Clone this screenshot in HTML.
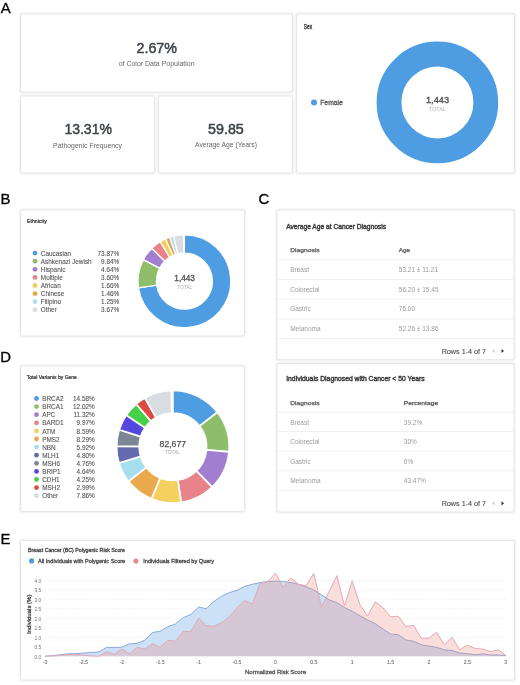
<!DOCTYPE html>
<html><head><meta charset="utf-8"><title>Figure</title>
<style>
html,body{margin:0;padding:0;background:#fff;width:520px;height:685px;overflow:hidden;}
svg{display:block;font-family:"Liberation Sans", sans-serif;filter:blur(0.35px);}
</style></head>
<body>
<svg width="520" height="685" viewBox="0 0 520 685">
<rect width="520" height="685" fill="#fff"/>
<text x="0.80" y="12.50" font-size="14.9" fill="#000" stroke="#000" stroke-width="0.3">A</text>
<text x="0.50" y="204.10" font-size="14.9" fill="#000" stroke="#000" stroke-width="0.3">B</text>
<text x="258.50" y="204.30" font-size="14.9" fill="#000" stroke="#000" stroke-width="0.3">C</text>
<text x="0.30" y="362.10" font-size="14.9" fill="#000" stroke="#000" stroke-width="0.3">D</text>
<text x="0.50" y="543.90" font-size="14.9" fill="#000" stroke="#000" stroke-width="0.3">E</text>
<rect x="19.50" y="13.00" width="274.00" height="80.00" rx="2.5" fill="none" stroke="#f4f4f4" stroke-width="1.5"/>
<rect x="20.50" y="14.00" width="272.00" height="78.00" rx="2" fill="#fff" stroke="#e6e6e6" stroke-width="1"/>
<rect x="19.50" y="95.00" width="136.00" height="79.00" rx="2.5" fill="none" stroke="#f4f4f4" stroke-width="1.5"/>
<rect x="20.50" y="96.00" width="134.00" height="77.00" rx="2" fill="#fff" stroke="#e6e6e6" stroke-width="1"/>
<rect x="157.50" y="95.00" width="136.00" height="79.00" rx="2.5" fill="none" stroke="#f4f4f4" stroke-width="1.5"/>
<rect x="158.50" y="96.00" width="134.00" height="77.00" rx="2" fill="#fff" stroke="#e6e6e6" stroke-width="1"/>
<rect x="295.50" y="13.00" width="220.00" height="161.00" rx="2.5" fill="none" stroke="#f4f4f4" stroke-width="1.5"/>
<rect x="296.50" y="14.00" width="218.00" height="159.00" rx="2" fill="#fff" stroke="#e6e6e6" stroke-width="1"/>
<text x="136.50" y="52.60" font-size="14.3" fill="#3f444a" stroke="#3f444a" stroke-width="0.5" textLength="40.50" lengthAdjust="spacingAndGlyphs">2.67%</text>
<text x="118.70" y="66.00" font-size="7.6" fill="#666" textLength="75.90" lengthAdjust="spacingAndGlyphs">of Color Data Population</text>
<text x="64.40" y="133.90" font-size="14.3" fill="#3f444a" stroke="#3f444a" stroke-width="0.5" textLength="47.50" lengthAdjust="spacingAndGlyphs">13.31%</text>
<text x="53.10" y="147.50" font-size="7.6" fill="#666" textLength="68.90" lengthAdjust="spacingAndGlyphs">Pathogenic Frequency</text>
<text x="208.10" y="133.80" font-size="14.3" fill="#3f444a" stroke="#3f444a" stroke-width="0.5" textLength="35.70" lengthAdjust="spacingAndGlyphs">59.85</text>
<text x="195.00" y="147.20" font-size="7.6" fill="#666" textLength="62.00" lengthAdjust="spacingAndGlyphs">Average Age (Years)</text>
<text x="303.80" y="28.70" font-size="6.3" fill="#333" stroke="#333" stroke-width="0.3" textLength="8.30" lengthAdjust="spacingAndGlyphs">Sex</text>
<circle cx="314" cy="102.5" r="3" fill="#4e9ce1"/>
<text x="320.20" y="105.20" font-size="7.3" fill="#555" stroke="#555" stroke-width="0.3" textLength="22.70" lengthAdjust="spacingAndGlyphs">Female</text>
<circle cx="437.4" cy="102.4" r="48.4" fill="none" stroke="#4e9ce1" stroke-width="24.8"/>
<text x="437.50" y="102.80" font-size="9.7" fill="#555" stroke="#555" stroke-width="0.4" text-anchor="middle" textLength="23.10" lengthAdjust="spacingAndGlyphs">1,443</text>
<text x="437.40" y="110.60" font-size="6.0" fill="#b0b0b0" text-anchor="middle" textLength="17.00" lengthAdjust="spacingAndGlyphs">TOTAL</text>
<rect x="19.50" y="209.00" width="226.00" height="128.00" rx="2.5" fill="none" stroke="#f4f4f4" stroke-width="1.5"/>
<rect x="20.50" y="210.00" width="224.00" height="126.00" rx="2" fill="#fff" stroke="#e6e6e6" stroke-width="1"/>
<text x="27.00" y="222.80" font-size="5.3" fill="#333" stroke="#333" stroke-width="0.22" textLength="19.80" lengthAdjust="spacingAndGlyphs">Ethnicity</text>
<circle cx="35" cy="253.10" r="2.4" fill="#4e9ce1"/>
<text x="40.80" y="255.70" font-size="6.9" fill="#555" stroke="#555" stroke-width="0.1" textLength="30.24" lengthAdjust="spacingAndGlyphs">Caucasian</text>
<text x="119.20" y="255.70" font-size="6.9" fill="#555" stroke="#555" stroke-width="0.1" text-anchor="end" textLength="21.71" lengthAdjust="spacingAndGlyphs">73.87%</text>
<circle cx="35" cy="261.20" r="2.4" fill="#8fbe6b"/>
<text x="40.80" y="263.80" font-size="6.9" fill="#555" stroke="#555" stroke-width="0.1" textLength="50.87" lengthAdjust="spacingAndGlyphs">Ashkenazi Jewish</text>
<text x="119.20" y="263.80" font-size="6.9" fill="#555" stroke="#555" stroke-width="0.1" text-anchor="end" textLength="18.15" lengthAdjust="spacingAndGlyphs">9.84%</text>
<circle cx="35" cy="269.30" r="2.4" fill="#a27ed0"/>
<text x="40.80" y="271.90" font-size="6.9" fill="#555" stroke="#555" stroke-width="0.1" textLength="24.54" lengthAdjust="spacingAndGlyphs">Hispanic</text>
<text x="119.20" y="271.90" font-size="6.9" fill="#555" stroke="#555" stroke-width="0.1" text-anchor="end" textLength="18.15" lengthAdjust="spacingAndGlyphs">4.64%</text>
<circle cx="35" cy="277.40" r="2.4" fill="#e8828b"/>
<text x="40.80" y="280.00" font-size="6.9" fill="#555" stroke="#555" stroke-width="0.1" textLength="22.05" lengthAdjust="spacingAndGlyphs">Multiple</text>
<text x="119.20" y="280.00" font-size="6.9" fill="#555" stroke="#555" stroke-width="0.1" text-anchor="end" textLength="18.15" lengthAdjust="spacingAndGlyphs">3.60%</text>
<circle cx="35" cy="285.50" r="2.4" fill="#f2cd5c"/>
<text x="40.80" y="288.10" font-size="6.9" fill="#555" stroke="#555" stroke-width="0.1" textLength="19.92" lengthAdjust="spacingAndGlyphs">African</text>
<text x="119.20" y="288.10" font-size="6.9" fill="#555" stroke="#555" stroke-width="0.1" text-anchor="end" textLength="18.15" lengthAdjust="spacingAndGlyphs">1.66%</text>
<circle cx="35" cy="293.60" r="2.4" fill="#e8a64c"/>
<text x="40.80" y="296.20" font-size="6.9" fill="#555" stroke="#555" stroke-width="0.1" textLength="23.48" lengthAdjust="spacingAndGlyphs">Chinese</text>
<text x="119.20" y="296.20" font-size="6.9" fill="#555" stroke="#555" stroke-width="0.1" text-anchor="end" textLength="18.15" lengthAdjust="spacingAndGlyphs">1.46%</text>
<circle cx="35" cy="301.70" r="2.4" fill="#aee0f0"/>
<text x="40.80" y="304.30" font-size="6.9" fill="#555" stroke="#555" stroke-width="0.1" textLength="20.27" lengthAdjust="spacingAndGlyphs">Filipino</text>
<text x="119.20" y="304.30" font-size="6.9" fill="#555" stroke="#555" stroke-width="0.1" text-anchor="end" textLength="18.15" lengthAdjust="spacingAndGlyphs">1.25%</text>
<circle cx="35" cy="309.80" r="2.4" fill="#d9dde1"/>
<text x="40.80" y="312.40" font-size="6.9" fill="#555" stroke="#555" stroke-width="0.1" textLength="16.01" lengthAdjust="spacingAndGlyphs">Other</text>
<text x="119.20" y="312.40" font-size="6.9" fill="#555" stroke="#555" stroke-width="0.1" text-anchor="end" textLength="18.15" lengthAdjust="spacingAndGlyphs">3.67%</text>
<path d="M184.40,234.80 A46.4,46.4 0 1 1 138.48,287.88 L156.69,285.23 A28.0,28.0 0 1 0 184.40,253.20 Z" fill="#4e9ce1" stroke="#fff" stroke-width="1.3" stroke-linejoin="miter"/>
<path d="M138.48,287.88 A46.4,46.4 0 0 1 143.33,259.62 L159.61,268.18 A28.0,28.0 0 0 0 156.69,285.23 Z" fill="#8fbe6b" stroke="#fff" stroke-width="1.3" stroke-linejoin="miter"/>
<path d="M143.33,259.62 A46.4,46.4 0 0 1 151.80,248.18 L164.73,261.28 A28.0,28.0 0 0 0 159.61,268.18 Z" fill="#a27ed0" stroke="#fff" stroke-width="1.3" stroke-linejoin="miter"/>
<path d="M151.80,248.18 A46.4,46.4 0 0 1 160.16,241.64 L169.77,257.33 A28.0,28.0 0 0 0 164.73,261.28 Z" fill="#e8828b" stroke="#fff" stroke-width="1.3" stroke-linejoin="miter"/>
<path d="M160.16,241.64 A46.4,46.4 0 0 1 165.44,238.85 L172.96,255.64 A28.0,28.0 0 0 0 169.77,257.33 Z" fill="#f2cd5c" stroke="#fff" stroke-width="1.3" stroke-linejoin="miter"/>
<path d="M165.44,238.85 A46.4,46.4 0 0 1 169.78,237.16 L175.58,254.63 A28.0,28.0 0 0 0 172.96,255.64 Z" fill="#e8a64c" stroke="#fff" stroke-width="1.3" stroke-linejoin="miter"/>
<path d="M169.78,237.16 A46.4,46.4 0 0 1 173.57,236.08 L177.86,253.97 A28.0,28.0 0 0 0 175.58,254.63 Z" fill="#aee0f0" stroke="#fff" stroke-width="1.3" stroke-linejoin="miter"/>
<path d="M173.57,236.08 A46.4,46.4 0 0 1 183.53,234.81 L183.87,253.20 A28.0,28.0 0 0 0 177.86,253.97 Z" fill="#d9dde1" stroke="#fff" stroke-width="1.3" stroke-linejoin="miter"/>
<text x="184.60" y="281.10" font-size="8.7" fill="#555" stroke="#555" stroke-width="0.35" text-anchor="middle" textLength="20.50" lengthAdjust="spacingAndGlyphs">1,443</text>
<text x="184.60" y="288.60" font-size="5.2" fill="#b0b0b0" text-anchor="middle" textLength="15.00" lengthAdjust="spacingAndGlyphs">TOTAL</text>
<rect x="19.50" y="365.00" width="226.00" height="147.50" rx="2.5" fill="none" stroke="#f4f4f4" stroke-width="1.5"/>
<rect x="20.50" y="366.00" width="224.00" height="145.50" rx="2" fill="#fff" stroke="#e6e6e6" stroke-width="1"/>
<text x="26.70" y="379.20" font-size="5.2" fill="#333" stroke="#333" stroke-width="0.22" textLength="50.20" lengthAdjust="spacingAndGlyphs">Total Variants by Gene</text>
<circle cx="36.5" cy="398.50" r="2.4" fill="#4e9ce1"/>
<text x="42.20" y="401.10" font-size="6.9" fill="#555" stroke="#555" stroke-width="0.1" textLength="21.34" lengthAdjust="spacingAndGlyphs">BRCA2</text>
<text x="94.70" y="401.10" font-size="6.9" fill="#555" stroke="#555" stroke-width="0.1" text-anchor="end" textLength="21.71" lengthAdjust="spacingAndGlyphs">14.58%</text>
<circle cx="36.5" cy="406.60" r="2.4" fill="#8fbe6b"/>
<text x="42.20" y="409.20" font-size="6.9" fill="#555" stroke="#555" stroke-width="0.1" textLength="21.34" lengthAdjust="spacingAndGlyphs">BRCA1</text>
<text x="94.70" y="409.20" font-size="6.9" fill="#555" stroke="#555" stroke-width="0.1" text-anchor="end" textLength="21.71" lengthAdjust="spacingAndGlyphs">12.02%</text>
<circle cx="36.5" cy="414.70" r="2.4" fill="#a27ed0"/>
<text x="42.20" y="417.30" font-size="6.9" fill="#555" stroke="#555" stroke-width="0.1" textLength="13.16" lengthAdjust="spacingAndGlyphs">APC</text>
<text x="94.70" y="417.30" font-size="6.9" fill="#555" stroke="#555" stroke-width="0.1" text-anchor="end" textLength="21.23" lengthAdjust="spacingAndGlyphs">11.32%</text>
<circle cx="36.5" cy="422.80" r="2.4" fill="#e8828b"/>
<text x="42.20" y="425.40" font-size="6.9" fill="#555" stroke="#555" stroke-width="0.1" textLength="21.34" lengthAdjust="spacingAndGlyphs">BARD1</text>
<text x="94.70" y="425.40" font-size="6.9" fill="#555" stroke="#555" stroke-width="0.1" text-anchor="end" textLength="18.15" lengthAdjust="spacingAndGlyphs">9.97%</text>
<circle cx="36.5" cy="430.90" r="2.4" fill="#f4d05e"/>
<text x="42.20" y="433.50" font-size="6.9" fill="#555" stroke="#555" stroke-width="0.1" textLength="13.03" lengthAdjust="spacingAndGlyphs">ATM</text>
<text x="94.70" y="433.50" font-size="6.9" fill="#555" stroke="#555" stroke-width="0.1" text-anchor="end" textLength="18.15" lengthAdjust="spacingAndGlyphs">8.59%</text>
<circle cx="36.5" cy="439.00" r="2.4" fill="#eaa94c"/>
<text x="42.20" y="441.60" font-size="6.9" fill="#555" stroke="#555" stroke-width="0.1" textLength="17.43" lengthAdjust="spacingAndGlyphs">PMS2</text>
<text x="94.70" y="441.60" font-size="6.9" fill="#555" stroke="#555" stroke-width="0.1" text-anchor="end" textLength="18.15" lengthAdjust="spacingAndGlyphs">8.29%</text>
<circle cx="36.5" cy="447.10" r="2.4" fill="#a6def0"/>
<text x="42.20" y="449.70" font-size="6.9" fill="#555" stroke="#555" stroke-width="0.1" textLength="13.51" lengthAdjust="spacingAndGlyphs">NBN</text>
<text x="94.70" y="449.70" font-size="6.9" fill="#555" stroke="#555" stroke-width="0.1" text-anchor="end" textLength="18.15" lengthAdjust="spacingAndGlyphs">5.92%</text>
<circle cx="36.5" cy="455.20" r="2.4" fill="#6569ae"/>
<text x="42.20" y="457.80" font-size="6.9" fill="#555" stroke="#555" stroke-width="0.1" textLength="17.07" lengthAdjust="spacingAndGlyphs">MLH1</text>
<text x="94.70" y="457.80" font-size="6.9" fill="#555" stroke="#555" stroke-width="0.1" text-anchor="end" textLength="18.15" lengthAdjust="spacingAndGlyphs">4.80%</text>
<circle cx="36.5" cy="463.30" r="2.4" fill="#7d8696"/>
<text x="42.20" y="465.90" font-size="6.9" fill="#555" stroke="#555" stroke-width="0.1" textLength="17.78" lengthAdjust="spacingAndGlyphs">MSH6</text>
<text x="94.70" y="465.90" font-size="6.9" fill="#555" stroke="#555" stroke-width="0.1" text-anchor="end" textLength="18.15" lengthAdjust="spacingAndGlyphs">4.76%</text>
<circle cx="36.5" cy="471.40" r="2.4" fill="#5449dc"/>
<text x="42.20" y="474.00" font-size="6.9" fill="#555" stroke="#555" stroke-width="0.1" textLength="18.50" lengthAdjust="spacingAndGlyphs">BRIP1</text>
<text x="94.70" y="474.00" font-size="6.9" fill="#555" stroke="#555" stroke-width="0.1" text-anchor="end" textLength="18.15" lengthAdjust="spacingAndGlyphs">4.64%</text>
<circle cx="36.5" cy="479.50" r="2.4" fill="#47d14a"/>
<text x="42.20" y="482.10" font-size="6.9" fill="#555" stroke="#555" stroke-width="0.1" textLength="17.43" lengthAdjust="spacingAndGlyphs">CDH1</text>
<text x="94.70" y="482.10" font-size="6.9" fill="#555" stroke="#555" stroke-width="0.1" text-anchor="end" textLength="18.15" lengthAdjust="spacingAndGlyphs">4.25%</text>
<circle cx="36.5" cy="487.60" r="2.4" fill="#dd4a42"/>
<text x="42.20" y="490.20" font-size="6.9" fill="#555" stroke="#555" stroke-width="0.1" textLength="17.78" lengthAdjust="spacingAndGlyphs">MSH2</text>
<text x="94.70" y="490.20" font-size="6.9" fill="#555" stroke="#555" stroke-width="0.1" text-anchor="end" textLength="18.15" lengthAdjust="spacingAndGlyphs">2.99%</text>
<circle cx="36.5" cy="495.70" r="2.4" fill="#d8dde1"/>
<text x="42.20" y="498.30" font-size="6.9" fill="#555" stroke="#555" stroke-width="0.1" textLength="16.01" lengthAdjust="spacingAndGlyphs">Other</text>
<text x="94.70" y="498.30" font-size="6.9" fill="#555" stroke="#555" stroke-width="0.1" text-anchor="end" textLength="18.15" lengthAdjust="spacingAndGlyphs">7.86%</text>
<path d="M172.90,390.40 A56.3,56.3 0 0 1 217.40,412.22 L199.54,426.06 A33.7,33.7 0 0 0 172.90,413.00 Z" fill="#4e9ce1" stroke="#fff" stroke-width="1.7" stroke-linejoin="miter"/>
<path d="M217.40,412.22 A56.3,56.3 0 0 1 228.96,451.89 L206.46,449.81 A33.7,33.7 0 0 0 199.54,426.06 Z" fill="#8fbe6b" stroke="#fff" stroke-width="1.7" stroke-linejoin="miter"/>
<path d="M228.96,451.89 A56.3,56.3 0 0 1 212.12,487.09 L196.38,470.88 A33.7,33.7 0 0 0 206.46,449.81 Z" fill="#a27ed0" stroke="#fff" stroke-width="1.7" stroke-linejoin="miter"/>
<path d="M212.12,487.09 A56.3,56.3 0 0 1 181.16,502.39 L177.85,480.03 A33.7,33.7 0 0 0 196.38,470.88 Z" fill="#e8828b" stroke="#fff" stroke-width="1.7" stroke-linejoin="miter"/>
<path d="M181.16,502.39 A56.3,56.3 0 0 1 151.51,498.78 L160.10,477.87 A33.7,33.7 0 0 0 177.85,480.03 Z" fill="#f4d05e" stroke="#fff" stroke-width="1.7" stroke-linejoin="miter"/>
<path d="M151.51,498.78 A56.3,56.3 0 0 1 128.52,481.34 L146.33,467.43 A33.7,33.7 0 0 0 160.10,477.87 Z" fill="#eaa94c" stroke="#fff" stroke-width="1.7" stroke-linejoin="miter"/>
<path d="M128.52,481.34 A56.3,56.3 0 0 1 118.99,462.94 L140.63,456.42 A33.7,33.7 0 0 0 146.33,467.43 Z" fill="#a6def0" stroke="#fff" stroke-width="1.7" stroke-linejoin="miter"/>
<path d="M118.99,462.94 A56.3,56.3 0 0 1 116.60,446.28 L139.20,446.45 A33.7,33.7 0 0 0 140.63,456.42 Z" fill="#6569ae" stroke="#fff" stroke-width="1.7" stroke-linejoin="miter"/>
<path d="M116.60,446.28 A56.3,56.3 0 0 1 119.20,429.79 L140.76,436.58 A33.7,33.7 0 0 0 139.20,446.45 Z" fill="#7d8696" stroke="#fff" stroke-width="1.7" stroke-linejoin="miter"/>
<path d="M119.20,429.79 A56.3,56.3 0 0 1 126.28,415.13 L145.00,427.80 A33.7,33.7 0 0 0 140.76,436.58 Z" fill="#5449dc" stroke="#fff" stroke-width="1.7" stroke-linejoin="miter"/>
<path d="M126.28,415.13 A56.3,56.3 0 0 1 136.21,404.00 L150.94,421.14 A33.7,33.7 0 0 0 145.00,427.80 Z" fill="#47d14a" stroke="#fff" stroke-width="1.7" stroke-linejoin="miter"/>
<path d="M136.21,404.00 A56.3,56.3 0 0 1 144.79,397.92 L156.07,417.50 A33.7,33.7 0 0 0 150.94,421.14 Z" fill="#dd4a42" stroke="#fff" stroke-width="1.7" stroke-linejoin="miter"/>
<path d="M144.79,397.92 A56.3,56.3 0 0 1 171.13,390.43 L171.84,413.02 A33.7,33.7 0 0 0 156.07,417.50 Z" fill="#d8dde1" stroke="#fff" stroke-width="1.7" stroke-linejoin="miter"/>
<text x="172.80" y="446.80" font-size="8.7" fill="#555" stroke="#555" stroke-width="0.25" text-anchor="middle" textLength="26.40" lengthAdjust="spacingAndGlyphs">82,677</text>
<text x="172.50" y="454.00" font-size="5.0" fill="#aaa" text-anchor="middle" textLength="15.10" lengthAdjust="spacingAndGlyphs">TOTAL</text>
<rect x="276.00" y="209.00" width="239.00" height="151.70" rx="2.5" fill="none" stroke="#f4f4f4" stroke-width="1.5"/>
<rect x="277.00" y="210.00" width="237.00" height="149.70" rx="2" fill="#fff" stroke="#e6e6e6" stroke-width="1"/>
<text x="286.20" y="228.60" font-size="6.9" fill="#333" stroke="#333" stroke-width="0.38" textLength="99.80" lengthAdjust="spacingAndGlyphs">Average Age at Cancer Diagnosis</text>
<text x="290.30" y="252.30" font-size="6.2" fill="#555" stroke="#555" stroke-width="0.25" textLength="29.30" lengthAdjust="spacingAndGlyphs">Diagnosis</text>
<text x="398.80" y="252.30" font-size="6.2" fill="#555" stroke="#555" stroke-width="0.25" textLength="11.20" lengthAdjust="spacingAndGlyphs">Age</text>
<line x1="277" x2="514" y1="259.70" y2="259.70" stroke="#ececec" stroke-width="0.8"/>
<line x1="277" x2="514" y1="279.50" y2="279.50" stroke="#ececec" stroke-width="0.8"/>
<line x1="277" x2="514" y1="299.10" y2="299.10" stroke="#ececec" stroke-width="0.8"/>
<line x1="277" x2="514" y1="318.90" y2="318.90" stroke="#ececec" stroke-width="0.8"/>
<line x1="277" x2="514" y1="338.50" y2="338.50" stroke="#ececec" stroke-width="0.8"/>
<text x="290.20" y="271.90" font-size="6.9" fill="#9a9a9a" textLength="18.79" lengthAdjust="spacingAndGlyphs">Breast</text>
<text x="398.80" y="271.90" font-size="6.9" fill="#9a9a9a" textLength="39.23" lengthAdjust="spacingAndGlyphs">53.21 ± 11.21</text>
<text x="290.20" y="291.70" font-size="6.9" fill="#9a9a9a" textLength="29.26" lengthAdjust="spacingAndGlyphs">Colorectal</text>
<text x="398.80" y="291.70" font-size="6.9" fill="#9a9a9a" textLength="39.71" lengthAdjust="spacingAndGlyphs">56.20 ± 15.45</text>
<text x="290.20" y="311.20" font-size="6.9" fill="#9a9a9a" textLength="20.58" lengthAdjust="spacingAndGlyphs">Gastric</text>
<text x="398.80" y="311.20" font-size="6.9" fill="#9a9a9a" textLength="16.26" lengthAdjust="spacingAndGlyphs">76.00</text>
<text x="290.20" y="330.70" font-size="6.9" fill="#9a9a9a" textLength="30.35" lengthAdjust="spacingAndGlyphs">Melanoma</text>
<text x="398.80" y="330.70" font-size="6.9" fill="#9a9a9a" textLength="39.71" lengthAdjust="spacingAndGlyphs">52.26 ± 13.86</text>
<text x="486.00" y="353.50" font-size="7.2" fill="#555" stroke="#555" stroke-width="0.15" text-anchor="end" textLength="44.30" lengthAdjust="spacingAndGlyphs">Rows 1-4 of 7</text>
<path d="M494.6,348.90 L492.2,351.00 L494.6,353.10 Z" fill="#cfcfcf"/>
<path d="M501.5,348.90 L504.0,351.00 L501.5,353.10 Z" fill="#333"/>
<rect x="276.00" y="362.50" width="239.00" height="150.50" rx="2.5" fill="none" stroke="#f4f4f4" stroke-width="1.5"/>
<rect x="277.00" y="363.50" width="237.00" height="148.50" rx="2" fill="#fff" stroke="#e6e6e6" stroke-width="1"/>
<text x="286.20" y="380.70" font-size="6.9" fill="#333" stroke="#333" stroke-width="0.38" textLength="138.50" lengthAdjust="spacingAndGlyphs">Individuals Diagnosed with Cancer &lt; 50 Years</text>
<text x="290.30" y="405.00" font-size="6.2" fill="#555" stroke="#555" stroke-width="0.25" textLength="29.30" lengthAdjust="spacingAndGlyphs">Diagnosis</text>
<text x="403.80" y="405.00" font-size="6.2" fill="#555" stroke="#555" stroke-width="0.25" textLength="34.40" lengthAdjust="spacingAndGlyphs">Percentage</text>
<line x1="277" x2="514" y1="412.20" y2="412.20" stroke="#ececec" stroke-width="0.8"/>
<line x1="277" x2="514" y1="431.50" y2="431.50" stroke="#ececec" stroke-width="0.8"/>
<line x1="277" x2="514" y1="451.00" y2="451.00" stroke="#ececec" stroke-width="0.8"/>
<line x1="277" x2="514" y1="470.80" y2="470.80" stroke="#ececec" stroke-width="0.8"/>
<line x1="277" x2="514" y1="490.60" y2="490.60" stroke="#ececec" stroke-width="0.8"/>
<text x="290.20" y="424.70" font-size="6.9" fill="#9a9a9a" textLength="18.79" lengthAdjust="spacingAndGlyphs">Breast</text>
<text x="403.80" y="424.70" font-size="6.9" fill="#9a9a9a" textLength="18.43" lengthAdjust="spacingAndGlyphs">39.2%</text>
<text x="290.20" y="444.20" font-size="6.9" fill="#9a9a9a" textLength="29.26" lengthAdjust="spacingAndGlyphs">Colorectal</text>
<text x="403.80" y="444.20" font-size="6.9" fill="#9a9a9a" textLength="13.01" lengthAdjust="spacingAndGlyphs">30%</text>
<text x="290.20" y="463.70" font-size="6.9" fill="#9a9a9a" textLength="20.58" lengthAdjust="spacingAndGlyphs">Gastric</text>
<text x="403.80" y="463.70" font-size="6.9" fill="#9a9a9a" textLength="9.39" lengthAdjust="spacingAndGlyphs">0%</text>
<text x="290.20" y="483.20" font-size="6.9" fill="#9a9a9a" textLength="30.35" lengthAdjust="spacingAndGlyphs">Melanoma</text>
<text x="403.80" y="483.20" font-size="6.9" fill="#9a9a9a" textLength="22.04" lengthAdjust="spacingAndGlyphs">43.47%</text>
<text x="486.00" y="505.80" font-size="7.2" fill="#555" stroke="#555" stroke-width="0.15" text-anchor="end" textLength="44.30" lengthAdjust="spacingAndGlyphs">Rows 1-4 of 7</text>
<path d="M494.6,501.20 L492.2,503.30 L494.6,505.40 Z" fill="#cfcfcf"/>
<path d="M501.5,501.20 L504.0,503.30 L501.5,505.40 Z" fill="#333"/>
<rect x="19.50" y="539.50" width="496.00" height="141.50" rx="2.5" fill="none" stroke="#f4f4f4" stroke-width="1.5"/>
<rect x="20.50" y="540.50" width="494.00" height="139.50" rx="2" fill="#fff" stroke="#e6e6e6" stroke-width="1"/>
<text x="28.00" y="552.00" font-size="5.5" fill="#444" stroke="#444" stroke-width="0.3" textLength="97.00" lengthAdjust="spacingAndGlyphs">Breast Cancer (BC) Polygenic Risk Score</text>
<circle cx="31.6" cy="560.9" r="2.55" fill="#4e9ce1"/>
<text x="38.00" y="562.60" font-size="5.8" fill="#444" stroke="#444" stroke-width="0.3" textLength="87.20" lengthAdjust="spacingAndGlyphs">All Individuals with Polygenic Score</text>
<circle cx="135.9" cy="561.0" r="2.55" fill="#e8898e"/>
<text x="143.30" y="562.60" font-size="5.8" fill="#444" stroke="#444" stroke-width="0.3" textLength="70.70" lengthAdjust="spacingAndGlyphs">Individuals Filtered by Query</text>
<text x="41.30" y="658.50" font-size="5.8" fill="#777" text-anchor="end" textLength="6.90" lengthAdjust="spacingAndGlyphs">0.0</text>
<line x1="45" x2="506" y1="646.82" y2="646.82" stroke="#e9e9e9" stroke-width="0.7" stroke-dasharray="1.2,1.6"/>
<text x="41.30" y="649.02" font-size="5.8" fill="#777" text-anchor="end" textLength="6.90" lengthAdjust="spacingAndGlyphs">0.5</text>
<line x1="45" x2="506" y1="637.35" y2="637.35" stroke="#e9e9e9" stroke-width="0.7" stroke-dasharray="1.2,1.6"/>
<text x="41.30" y="639.55" font-size="5.8" fill="#777" text-anchor="end" textLength="6.90" lengthAdjust="spacingAndGlyphs">1.0</text>
<line x1="45" x2="506" y1="627.88" y2="627.88" stroke="#e9e9e9" stroke-width="0.7" stroke-dasharray="1.2,1.6"/>
<text x="41.30" y="630.08" font-size="5.8" fill="#777" text-anchor="end" textLength="6.90" lengthAdjust="spacingAndGlyphs">1.5</text>
<line x1="45" x2="506" y1="618.40" y2="618.40" stroke="#e9e9e9" stroke-width="0.7" stroke-dasharray="1.2,1.6"/>
<text x="41.30" y="620.60" font-size="5.8" fill="#777" text-anchor="end" textLength="6.90" lengthAdjust="spacingAndGlyphs">2.0</text>
<line x1="45" x2="506" y1="608.92" y2="608.92" stroke="#e9e9e9" stroke-width="0.7" stroke-dasharray="1.2,1.6"/>
<text x="41.30" y="611.12" font-size="5.8" fill="#777" text-anchor="end" textLength="6.90" lengthAdjust="spacingAndGlyphs">2.5</text>
<line x1="45" x2="506" y1="599.45" y2="599.45" stroke="#e9e9e9" stroke-width="0.7" stroke-dasharray="1.2,1.6"/>
<text x="41.30" y="601.65" font-size="5.8" fill="#777" text-anchor="end" textLength="6.90" lengthAdjust="spacingAndGlyphs">3.0</text>
<line x1="45" x2="506" y1="589.97" y2="589.97" stroke="#e9e9e9" stroke-width="0.7" stroke-dasharray="1.2,1.6"/>
<text x="41.30" y="592.17" font-size="5.8" fill="#777" text-anchor="end" textLength="6.90" lengthAdjust="spacingAndGlyphs">3.5</text>
<line x1="45" x2="506" y1="580.50" y2="580.50" stroke="#e9e9e9" stroke-width="0.7" stroke-dasharray="1.2,1.6"/>
<text x="41.30" y="582.70" font-size="5.8" fill="#777" text-anchor="end" textLength="6.90" lengthAdjust="spacingAndGlyphs">4.0</text>
<text x="45.00" y="664.00" font-size="5.2" fill="#777" stroke="#777" stroke-width="0.12" text-anchor="middle">-3</text>
<text x="83.40" y="664.00" font-size="5.2" fill="#777" stroke="#777" stroke-width="0.12" text-anchor="middle">-2.5</text>
<text x="121.80" y="664.00" font-size="5.2" fill="#777" stroke="#777" stroke-width="0.12" text-anchor="middle">-2</text>
<text x="160.20" y="664.00" font-size="5.2" fill="#777" stroke="#777" stroke-width="0.12" text-anchor="middle">-1.5</text>
<text x="198.60" y="664.00" font-size="5.2" fill="#777" stroke="#777" stroke-width="0.12" text-anchor="middle">-1</text>
<text x="237.00" y="664.00" font-size="5.2" fill="#777" stroke="#777" stroke-width="0.12" text-anchor="middle">-0.5</text>
<text x="275.40" y="664.00" font-size="5.2" fill="#777" stroke="#777" stroke-width="0.12" text-anchor="middle">0</text>
<text x="313.80" y="664.00" font-size="5.2" fill="#777" stroke="#777" stroke-width="0.12" text-anchor="middle">0.5</text>
<text x="352.20" y="664.00" font-size="5.2" fill="#777" stroke="#777" stroke-width="0.12" text-anchor="middle">1</text>
<text x="390.60" y="664.00" font-size="5.2" fill="#777" stroke="#777" stroke-width="0.12" text-anchor="middle">1.5</text>
<text x="429.00" y="664.00" font-size="5.2" fill="#777" stroke="#777" stroke-width="0.12" text-anchor="middle">2</text>
<text x="467.40" y="664.00" font-size="5.2" fill="#777" stroke="#777" stroke-width="0.12" text-anchor="middle">2.5</text>
<text x="505.80" y="664.00" font-size="5.2" fill="#777" stroke="#777" stroke-width="0.12" text-anchor="middle">3</text>
<text x="275.50" y="674.20" font-size="6.0" fill="#555" stroke="#555" stroke-width="0.3" text-anchor="middle" textLength="61.00" lengthAdjust="spacingAndGlyphs">Normalized Risk Score</text>
<text x="0.00" y="0.00" font-size="6.0" fill="#444" stroke="#444" stroke-width="0.3" text-anchor="middle" textLength="39.50" lengthAdjust="spacingAndGlyphs" transform="translate(31,614.3) rotate(-90)">Individuals (%)</text>
<path d="M45.00,656.30 L45.00,656.30 52.68,655.92 60.36,655.54 68.04,654.40 75.72,654.40 83.40,655.16 91.08,655.92 98.76,656.30 106.44,651.56 114.12,654.40 121.80,649.10 129.48,653.65 137.16,647.39 144.84,649.10 152.52,643.60 160.20,647.20 167.88,640.38 175.56,641.14 183.24,631.29 190.92,631.66 198.60,618.21 206.28,625.60 213.96,626.36 221.64,622.76 229.32,616.69 237.00,607.98 244.68,600.40 252.36,604.00 260.04,583.34 267.72,581.83 275.40,573.11 283.08,587.32 290.76,578.04 298.44,584.29 306.12,585.62 313.80,573.30 321.48,607.22 329.16,591.49 336.84,575.76 344.52,605.89 352.20,580.88 359.88,604.76 367.56,615.94 375.24,601.72 382.92,607.79 390.60,616.88 398.28,616.13 405.96,626.55 413.64,625.41 421.32,638.30 429.00,638.11 436.68,632.23 444.36,644.74 452.04,637.35 459.72,649.86 467.40,645.12 475.08,648.53 482.76,649.10 490.44,651.56 498.12,649.86 505.80,655.16 L505.80,656.30 Z" fill="#fff"/>
<path d="M45.00,656.30 L45.00,656.30 52.68,655.54 60.36,654.78 68.04,653.84 75.72,653.65 83.40,653.08 91.08,652.51 98.76,651.94 106.44,647.58 114.12,647.58 121.80,647.20 129.48,643.79 137.16,643.41 144.84,640.19 152.52,632.61 160.20,631.10 167.88,626.74 175.56,623.90 183.24,617.64 190.92,614.42 198.60,607.03 206.28,608.74 213.96,601.34 221.64,596.23 229.32,592.63 237.00,590.35 244.68,586.37 252.36,584.29 260.04,582.58 267.72,581.64 275.40,581.26 283.08,581.45 290.76,582.58 298.44,584.29 306.12,586.94 313.80,589.97 321.48,594.71 329.16,599.83 336.84,602.67 344.52,607.60 352.20,611.20 359.88,615.75 367.56,619.92 375.24,623.71 382.92,629.01 390.60,634.13 398.28,634.70 405.96,640.00 413.64,641.33 421.32,644.74 429.00,646.07 436.68,647.39 444.36,649.86 452.04,650.62 459.72,652.89 467.40,653.65 475.08,654.78 482.76,653.84 490.44,654.97 498.12,654.97 505.80,655.54 L505.80,656.30 Z" fill="#cce0f6"/>
<polyline points="45.00,656.30 52.68,655.54 60.36,654.78 68.04,653.84 75.72,653.65 83.40,653.08 91.08,652.51 98.76,651.94 106.44,647.58 114.12,647.58 121.80,647.20 129.48,643.79 137.16,643.41 144.84,640.19 152.52,632.61 160.20,631.10 167.88,626.74 175.56,623.90 183.24,617.64 190.92,614.42 198.60,607.03 206.28,608.74 213.96,601.34 221.64,596.23 229.32,592.63 237.00,590.35 244.68,586.37 252.36,584.29 260.04,582.58 267.72,581.64 275.40,581.26 283.08,581.45 290.76,582.58 298.44,584.29 306.12,586.94 313.80,589.97 321.48,594.71 329.16,599.83 336.84,602.67 344.52,607.60 352.20,611.20 359.88,615.75 367.56,619.92 375.24,623.71 382.92,629.01 390.60,634.13 398.28,634.70 405.96,640.00 413.64,641.33 421.32,644.74 429.00,646.07 436.68,647.39 444.36,649.86 452.04,650.62 459.72,652.89 467.40,653.65 475.08,654.78 482.76,653.84 490.44,654.97 498.12,654.97 505.80,655.54" fill="none" stroke="#88abd9" stroke-width="1" stroke-linejoin="round"/>
<path d="M45.00,656.30 L45.00,656.30 52.68,655.92 60.36,655.54 68.04,654.40 75.72,654.40 83.40,655.16 91.08,655.92 98.76,656.30 106.44,651.56 114.12,654.40 121.80,649.10 129.48,653.65 137.16,647.39 144.84,649.10 152.52,643.60 160.20,647.20 167.88,640.38 175.56,641.14 183.24,631.29 190.92,631.66 198.60,618.21 206.28,625.60 213.96,626.36 221.64,622.76 229.32,616.69 237.00,607.98 244.68,600.40 252.36,604.00 260.04,583.34 267.72,581.83 275.40,573.11 283.08,587.32 290.76,578.04 298.44,584.29 306.12,585.62 313.80,573.30 321.48,607.22 329.16,591.49 336.84,575.76 344.52,605.89 352.20,580.88 359.88,604.76 367.56,615.94 375.24,601.72 382.92,607.79 390.60,616.88 398.28,616.13 405.96,626.55 413.64,625.41 421.32,638.30 429.00,638.11 436.68,632.23 444.36,644.74 452.04,637.35 459.72,649.86 467.40,645.12 475.08,648.53 482.76,649.10 490.44,651.56 498.12,649.86 505.80,655.16 L505.80,656.30 Z" fill="rgb(237,133,127)" fill-opacity="0.275"/>
<polyline points="45.00,656.30 52.68,655.92 60.36,655.54 68.04,654.40 75.72,654.40 83.40,655.16 91.08,655.92 98.76,656.30 106.44,651.56 114.12,654.40 121.80,649.10 129.48,653.65 137.16,647.39 144.84,649.10 152.52,643.60 160.20,647.20 167.88,640.38 175.56,641.14 183.24,631.29 190.92,631.66 198.60,618.21 206.28,625.60 213.96,626.36 221.64,622.76 229.32,616.69 237.00,607.98 244.68,600.40 252.36,604.00 260.04,583.34 267.72,581.83 275.40,573.11 283.08,587.32 290.76,578.04 298.44,584.29 306.12,585.62 313.80,573.30 321.48,607.22 329.16,591.49 336.84,575.76 344.52,605.89 352.20,580.88 359.88,604.76 367.56,615.94 375.24,601.72 382.92,607.79 390.60,616.88 398.28,616.13 405.96,626.55 413.64,625.41 421.32,638.30 429.00,638.11 436.68,632.23 444.36,644.74 452.04,637.35 459.72,649.86 467.40,645.12 475.08,648.53 482.76,649.10 490.44,651.56 498.12,649.86 505.80,655.16" fill="none" stroke="#e3a9b5" stroke-width="1" stroke-linejoin="round"/>
</svg>
</body></html>
